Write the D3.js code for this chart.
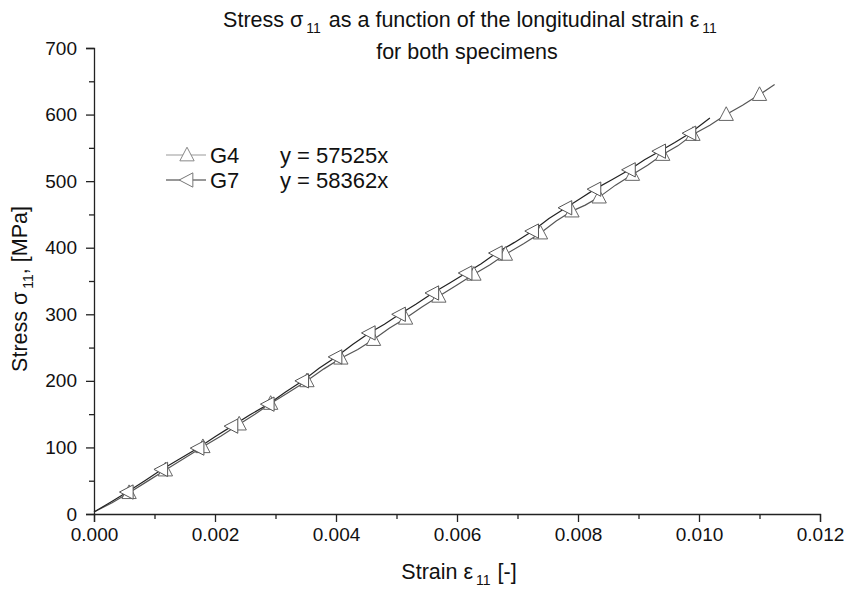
<!DOCTYPE html>
<html><head><meta charset="utf-8">
<script src="https://cdn.jsdelivr.net/npm/d3@7"></script>
<style>body{margin:0;background:#fff}svg{font-family:"Liberation Sans",Arial,sans-serif}</style>
</head><body><svg id="c" width="847" height="590"></svg>
<script>
const xTicks = [0, 0.002, 0.004, 0.006, 0.008, 0.010, 0.012];
const yTicks = [0, 100, 200, 300, 400, 500, 600, 700];
const seriesNames = ["G4", "G7"];
const fitLabels = ["y = 57525x", "y = 58362x"];
// G4: strain, stress
const g4Strain = [0.00000,0.00030,0.00058,0.00088,0.00118,0.00150,0.00180,0.00210,0.00240,0.00266,0.00292,0.00322,0.00352,0.00380,0.00408,0.00436,0.00462,0.00488,0.00515,0.00542,0.00570,0.00600,0.00628,0.00654,0.00680,0.00710,0.00738,0.00764,0.00790,0.00812,0.00835,0.00862,0.00890,0.00915,0.00940,0.00965,0.00990,0.01018,0.01045,0.01072,0.01100,0.01125];
const g4Stress = [3,17,32,49,66,84,101,117,135,150,166,183,200,218,234,247,262,279,294,311,327,344,360,374,390,406,422,440,455,464,476,494,510,524,540,553,570,584,600,614,630,645];
const g4Marker = [2,4,6,8,10,12,14,16,18,20,22,24,26,28,30,32,34,36,38,40];
// G7
const g7Strain = [0.00000,0.00028,0.00055,0.00084,0.00112,0.00142,0.00172,0.00200,0.00228,0.00258,0.00288,0.00316,0.00345,0.00372,0.00400,0.00428,0.00455,0.00480,0.00505,0.00532,0.00560,0.00588,0.00615,0.00640,0.00665,0.00695,0.00725,0.00752,0.00780,0.00804,0.00828,0.00856,0.00885,0.00910,0.00935,0.00960,0.00985,0.01018];
const g7Stress = [3,18,33,50,67,83,99,116,132,149,165,183,200,219,236,255,272,285,300,315,332,347,362,376,392,408,425,444,460,474,488,502,517,532,545,558,572,595];
const g7Marker = [2,4,6,8,10,12,14,16,18,20,22,24,26,28,30,32,34,36];

const FS = 19;
const TS = 21.5;
const svg = d3.select("#c");
const x = d3.scaleLinear().domain([0, 0.012]).range([94, 820]);
const y = d3.scaleLinear().domain([0, 700]).range([514, 48]);

// axes
const xAxis = d3.axisBottom(x).tickValues(xTicks).tickFormat(d3.format(".3f")).tickSizeOuter(0).tickSize(8).tickPadding(6);
svg.append("g").attr("transform","translate(0,514)").call(xAxis);
const yAxis = d3.axisLeft(y).tickValues(yTicks).tickFormat(d3.format("d")).tickSizeOuter(0).tickSize(8).tickPadding(9);
svg.append("g").attr("transform","translate(94,0)").call(yAxis);
const xMinor = d3.range(1,12,2).map(d=>d*0.001);
const yMinor = d3.range(50,700,100);
svg.append("g").attr("transform","translate(0,514)").call(d3.axisBottom(x).tickValues(xMinor).tickFormat("").tickSize(5).tickSizeOuter(0)).select(".domain").remove();
svg.append("g").attr("transform","translate(94,0)").call(d3.axisLeft(y).tickValues(yMinor).tickFormat("").tickSize(5).tickSizeOuter(0)).select(".domain").remove();
svg.selectAll(".tick text").attr("font-size",FS).attr("fill","#111").attr("font-family","Liberation Sans, Arial, sans-serif");
svg.selectAll(".domain, .tick line").attr("stroke","#222").attr("stroke-width",1.3);

function tri(cx, cy, dir, s){
  if(dir==="up") return `M${cx},${cy-s*0.6}L${cx+s*0.55},${cy+s*0.45}L${cx-s*0.55},${cy+s*0.45}Z`;
  return `M${cx-s*0.6},${cy}L${cx+s*0.45},${cy-s*0.55}L${cx+s*0.45},${cy+s*0.55}Z`;
}

const line = d3.line().x(d=>x(d[0])).y(d=>y(d[1]));
const g4 = g4Strain.map((s,i)=>[s,g4Stress[i]]);
const g7 = g7Strain.map((s,i)=>[s,g7Stress[i]]);
svg.append("path").attr("d",line(g4)).attr("fill","none").attr("stroke","#555").attr("stroke-width",1.2);
svg.append("path").attr("d",line(g7)).attr("fill","none").attr("stroke","#222").attr("stroke-width",1.2);
svg.append("g").selectAll("path").data(g4Marker).join("path")
  .attr("d",i=>tri(x(g4[i][0]),y(g4[i][1]),"up",13)).attr("fill","#fff").attr("stroke","#666").attr("stroke-width",1);
svg.append("g").selectAll("path").data(g7Marker).join("path")
  .attr("d",i=>tri(x(g7[i][0]),y(g7[i][1]),"left",13)).attr("fill","#fff").attr("stroke","#555").attr("stroke-width",1);

// legend
const leg = [{c:"#999",dir:"up",y:155},{c:"#333",dir:"left",y:180}];
leg.forEach((l,i)=>{
  svg.append("line").attr("x1",166).attr("x2",206).attr("y1",l.y).attr("y2",l.y).attr("stroke",l.c).attr("stroke-width",1.1);
  svg.append("path").attr("d",tri(187,l.y,l.dir,13)).attr("fill","#fff").attr("stroke",i===0?"#888":"#777");
  svg.append("text").attr("x",210).attr("y",l.y+7.5).attr("font-size",22).attr("fill","#111").text(seriesNames[i]);
  svg.append("text").attr("x",280).attr("y",l.y+7.5).attr("font-size",22).attr("fill","#111").text(fitLabels[i]);
});

// title
const t1 = svg.append("text").attr("x",470).attr("y",27).attr("text-anchor","middle").attr("font-size",TS).attr("fill","#111");
t1.append("tspan").text("Stress σ");
t1.append("tspan").attr("font-size",14).attr("dy",6).attr("dx",3).text("11");
t1.append("tspan").attr("dy",-6).attr("dx",2).text(" as a function of the longitudinal strain ε");
t1.append("tspan").attr("font-size",14).attr("dy",6).attr("dx",3).text("11");
svg.append("text").attr("x",467).attr("y",59).attr("text-anchor","middle").attr("font-size",TS).attr("fill","#111").text("for both specimens");

// axis titles
const xt = svg.append("text").attr("x",459).attr("y",579).attr("text-anchor","middle").attr("font-size",TS).attr("fill","#111");
xt.append("tspan").text("Strain ε");
xt.append("tspan").attr("font-size",14).attr("dy",6).attr("dx",3).text("11");
xt.append("tspan").attr("dy",-6).attr("dx",1).text(" [-]");
const yt = svg.append("text").attr("transform","translate(27,289) rotate(-90)").attr("text-anchor","middle").attr("font-size",TS).attr("fill","#111");
yt.append("tspan").text("Stress σ");
yt.append("tspan").attr("font-size",14).attr("dy",6).attr("dx",3).text("11");
yt.append("tspan").attr("dy",-6).text(", [MPa]");
</script></body></html>
